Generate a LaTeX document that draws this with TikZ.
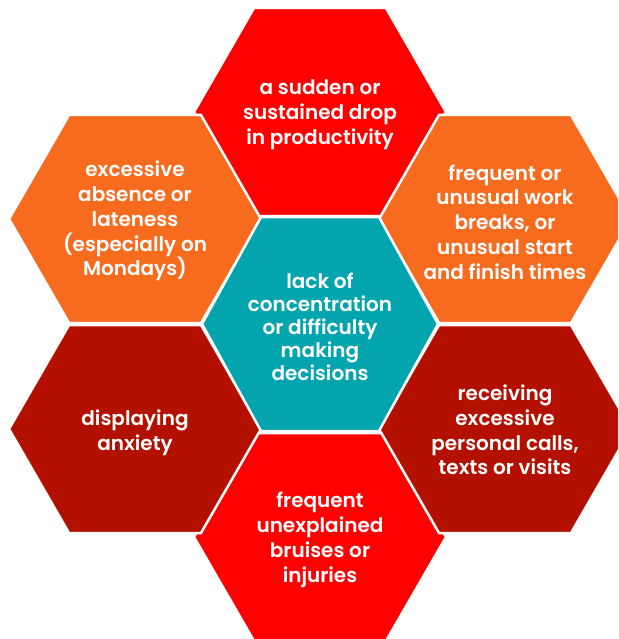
\documentclass[tikz,border=0pt]{standalone}
\usepackage{fontspec}
\setmainfont{Poppins}[BoldFont={Poppins SemiBold}]

\definecolor{hexred}{HTML}{FF0000}
\definecolor{hexorange}{HTML}{F76B1F}
\definecolor{hexteal}{HTML}{02A5AE}
\definecolor{hexdark}{HTML}{B31000}

\tikzset{
	cell/.style={draw=white, line width=2.5pt, line join=miter},
	celltext/.style={text=white, align=center, inner sep=0pt, font=\bfseries\fontsize{20}{24.8}\selectfont}
}

% centre, half width, top half width, half height, fill
\newcommand{\hexcell}[5]{%
	\fill[cell, fill=#5, shift={#1}] (-#2,0) -- (-#3,-#4) -- (#3,-#4) -- (#2,0) -- (#3,#4) -- (-#3,#4) -- cycle;}

\begin{document}
\begin{tikzpicture}[x=1pt, y=-1pt]
	\useasboundingbox (0,0) rectangle (618,639);
	\clip (0,0) rectangle (618,639);

	% top and bottom first, the side cells lie over them
	\hexcell{(320,112)}{126}{66}{104}{hexred}
	\hexcell{(320,537)}{126}{66}{104}{hexred}
	\hexcell{(135,219)}{126}{66}{104}{hexorange}
	\hexcell{(505,219)}{126}{66}{104}{hexorange}
	\hexcell{(135,429)}{126}{66}{104}{hexdark}
	\hexcell{(505,429)}{126}{66}{104}{hexdark}
	\hexcell{(320,324)}{118}{59}{107}{hexteal}

	\node[celltext] (drop) at (320,115) {a sudden or\\sustained drop\\in productivity};
	\node[celltext] (absence) at (135,221) {excessive\\absence or\\lateness\\(especially on\\Mondays)};
	\node[celltext] (breaks) at (505,222) {frequent or\\unusual work\\breaks, or\\unusual start\\and finish times};
	\node[celltext, font=\bfseries\fontsize{20}{23}\selectfont] (focus) at (320,327) {lack of\\concentration\\or difficulty\\making\\decisions};
	\node[celltext] (anxiety) at (135,433) {displaying\\anxiety};
	\node[celltext] (calls) at (505,430) {receiving\\excessive\\personal calls,\\texts or visits};
	\node[celltext] (bruises) at (320,540) {frequent\\unexplained\\bruises or\\injuries};

\end{tikzpicture}
\end{document}
